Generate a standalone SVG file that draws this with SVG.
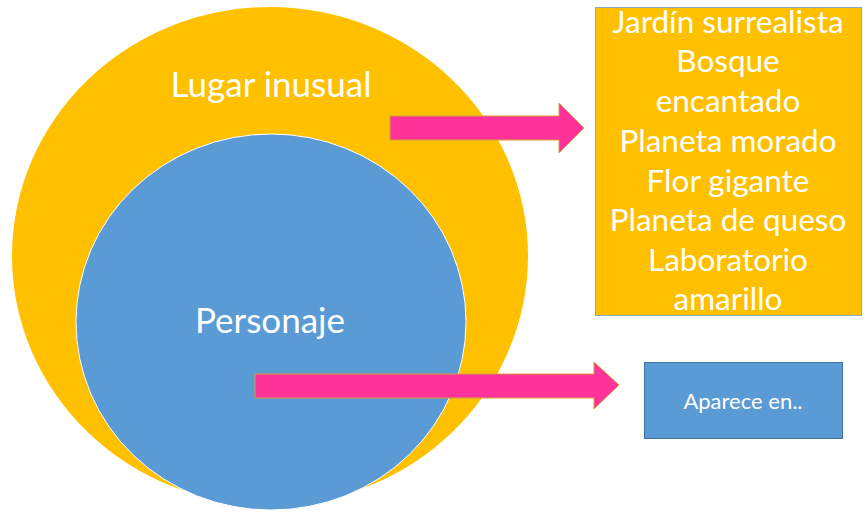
<svg xmlns="http://www.w3.org/2000/svg" width="867" height="515" viewBox="0 0 867 515">
<style>
.lbl{font-family:Lato,"Liberation Sans",sans-serif;fill:#ffffff;text-anchor:middle}
.big{font-size:35px}
.list{font-size:31.5px}
.arrow{fill:#FF3399;stroke:#D4A03A;stroke-width:1}
</style>
<rect width="867" height="515" fill="#ffffff"/>
<g id="lugar">
<ellipse cx="270" cy="256" rx="258" ry="249" fill="#FFC000"/>
<text class="lbl big" x="271" y="97">Lugar inusual</text>
</g>
<g id="personaje">
<ellipse cx="271" cy="322" rx="195" ry="188" fill="#5B9BD5" stroke="#ffffff" stroke-width="1"/>
<text class="lbl big" x="270" y="333">Personaje</text>
</g>
<g id="lugares">
<rect x="595.5" y="7.5" width="266" height="308" fill="#FFC000" stroke="#8EA9C8" stroke-width="1"/>
<text class="lbl list" x="728" y="33">Jardín surrealista</text>
<text class="lbl list" x="728" y="72">Bosque</text>
<text class="lbl list" x="728" y="112">encantado</text>
<text class="lbl list" x="728" y="152">Planeta morado</text>
<text class="lbl list" x="728" y="192">Flor gigante</text>
<text class="lbl list" x="728" y="231">Planeta de queso</text>
<text class="lbl list" x="728" y="271">Laboratorio</text>
<text class="lbl list" x="728" y="310">amarillo</text>
</g>
<g id="aparece">
<rect x="644.5" y="362.5" width="198" height="76" fill="#5B9BD5" stroke="#41719C" stroke-width="1"/>
<text class="lbl" x="743" y="409" font-size="22">Aparece en..</text>
</g>
<g id="connectors">
<path class="arrow" d="M390,116 H559 V103 L584,128 L559,153 V140 H390 Z"/>
<path class="arrow" d="M255,374 H594 V362 L619,385 L594,409 V398 H255 Z"/>
</g>
</svg>
